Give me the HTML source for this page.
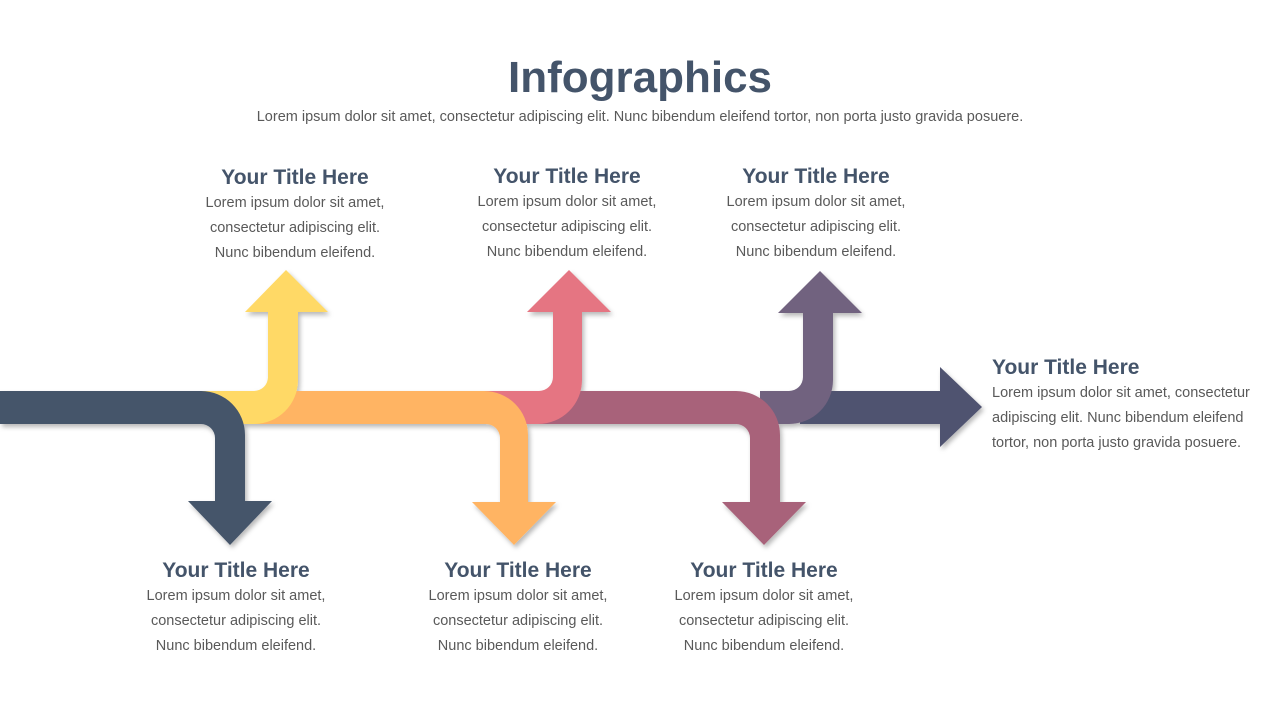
<!DOCTYPE html>
<html><head><meta charset="utf-8"><style>
body{margin:0;width:1280px;height:720px;background:#fff;position:relative;overflow:hidden;font-family:"Liberation Sans",sans-serif}
.t{position:absolute;text-align:center;width:300px;color:#44546a}
.t h3{margin:0;font-size:21px;font-weight:bold;line-height:26px}
.t p{margin:0;font-size:14.5px;line-height:25px;color:#595959}
</style></head><body>
<div style="position:absolute;left:0;width:1280px;top:53px;text-align:center;font-size:44px;font-weight:bold;color:#44546a">Infographics</div>
<div style="position:absolute;left:0;width:1280px;top:109px;text-align:center;font-size:14.5px;color:#595959">Lorem ipsum dolor sit amet, consectetur adipiscing elit. Nunc bibendum eleifend tortor, non porta justo gravida posuere.</div>
<svg width="1280" height="720" style="position:absolute;left:0;top:0">
<defs><filter id="s" x="-10%" y="-10%" width="130%" height="130%"><feDropShadow dx="2" dy="3" stdDeviation="2.5" flood-color="#000" flood-opacity="0.28"/></filter></defs>
<g filter="url(#s)">
<path fill="#4f5270" d="M800,391 H940 V367 L982,407 L940,447 V424 H800 Z"/>
<path fill="#71627f" d="M760,391 H789 A14 14 0 0 0 803,377 V313 H778 L820,271 L862,313 H833 V380 A44 44 0 0 1 789,424 H760 Z"/>
<path fill="#a8627a" d="M530,391 H736 A44 44 0 0 1 780,435 V502 H806 L764,545 L722,502 H750 V438 A14 14 0 0 0 736,424 H530 Z"/>
<path fill="#e57582" d="M480,391 H539 A14 14 0 0 0 553,377 V312 H527 L569,270 L611,312 H582 V380 A44 44 0 0 1 538,424 H480 Z"/>
<path fill="#ffb463" d="M240,391 H484 A44 44 0 0 1 528,435 V502 H556 L514,545 L472,502 H500 V438 A14 14 0 0 0 486,424 H240 Z"/>
<path fill="#ffd966" d="M200,391 H254 A14 14 0 0 0 268,377 V312 H245 L286,270 L328,312 H298 V380 A44 44 0 0 1 254,424 H200 Z"/>
<path fill="#44546a" d="M0,391 H201 A44 44 0 0 1 245,435 V501 H272 L230,545 L188,501 H215 V438 A14 14 0 0 0 201,424 H0 Z"/>
</g>
</svg>
<div class="t" style="left:145px;top:165px"><h3>Your Title Here</h3><p>Lorem ipsum dolor sit amet,<br>consectetur adipiscing elit.<br>Nunc bibendum eleifend.</p></div>
<div class="t" style="left:417px;top:164px"><h3>Your Title Here</h3><p>Lorem ipsum dolor sit amet,<br>consectetur adipiscing elit.<br>Nunc bibendum eleifend.</p></div>
<div class="t" style="left:666px;top:164px"><h3>Your Title Here</h3><p>Lorem ipsum dolor sit amet,<br>consectetur adipiscing elit.<br>Nunc bibendum eleifend.</p></div>
<div class="t" style="left:86px;top:558px"><h3>Your Title Here</h3><p>Lorem ipsum dolor sit amet,<br>consectetur adipiscing elit.<br>Nunc bibendum eleifend.</p></div>
<div class="t" style="left:368px;top:558px"><h3>Your Title Here</h3><p>Lorem ipsum dolor sit amet,<br>consectetur adipiscing elit.<br>Nunc bibendum eleifend.</p></div>
<div class="t" style="left:614px;top:558px"><h3>Your Title Here</h3><p>Lorem ipsum dolor sit amet,<br>consectetur adipiscing elit.<br>Nunc bibendum eleifend.</p></div>
<div class="t" style="left:992px;top:355px;text-align:left;width:285px"><h3>Your Title Here</h3><p>Lorem ipsum dolor sit amet, consectetur<br>adipiscing elit. Nunc bibendum eleifend<br>tortor, non porta justo gravida posuere.</p></div>
</body></html>
